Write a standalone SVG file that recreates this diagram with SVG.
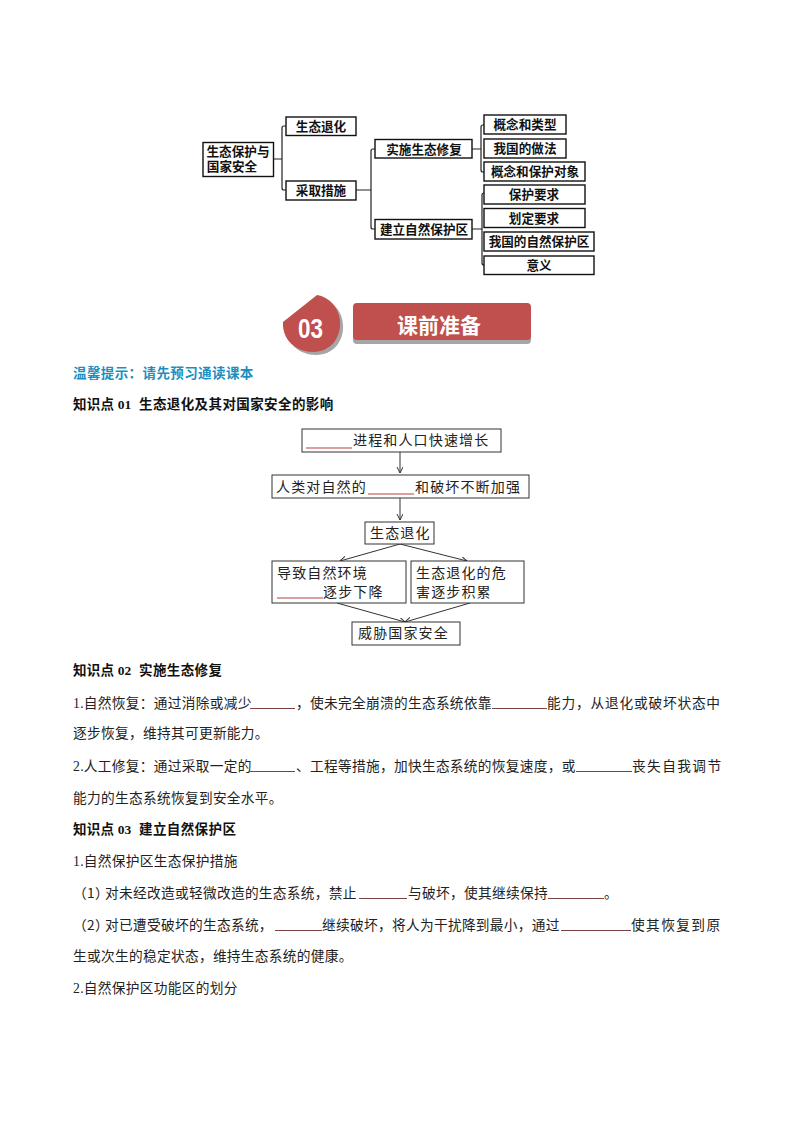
<svg xmlns="http://www.w3.org/2000/svg" width="794" height="1123" viewBox="0 0 794 1123">
<style>
text{font-family:"Liberation Serif","Noto Sans CJK SC",sans-serif;fill:#111}
.tb{fill:#fff;stroke:#111;stroke-width:1.4}
.tt{font-family:"Liberation Sans","Noto Sans CJK SC",sans-serif;font-size:12.6px;font-weight:700;text-anchor:middle}
.tc{fill:none;stroke:#222;stroke-width:1.2}
.fb{fill:#fff;stroke:#333;stroke-width:1}
.ft{font-family:"Liberation Sans","Noto Sans CJK SC",sans-serif;font-size:14px;letter-spacing:1.15px;fill:#222}
.fc{fill:none;stroke:#333;stroke-width:1;marker-end:url(#arr)}
.fu{stroke:#cf7f7c;stroke-width:1.3}
.h{font-size:13.5px;font-weight:700;letter-spacing:.4px}
.p{font-size:13.7px;letter-spacing:.3px;fill:#222}
.w{letter-spacing:.8px}
.x{letter-spacing:1.4px}
.u{stroke:#7b4545;stroke-width:1}
</style>
<defs>
<marker id="arr" markerWidth="8" markerHeight="8" refX="6" refY="3" orient="auto" markerUnits="userSpaceOnUse"><path d="M0,0L6,3L0,6" fill="none" stroke="#333" stroke-width="1"/></marker>
</defs>
<rect width="794" height="1123" fill="#fff"/>

<g id="connectors">
<path class="tc" d="M273,159H282M286,126H284Q282,126 282,128V188Q282,190 284,190H286"/>
<path class="tc" d="M356,190H371M375,149H373Q371,149 371,151V227Q371,229 373,229H375"/>
<path class="tc" d="M472,149H481M484,125H483Q481,125 481,127V170Q481,172 483,172H484"/>
<path class="tc" d="M472,229H482M484,193H484Q482,193 482,195V263Q482,265 484,265"/>
<path class="fc" d="M400,452V473"/>
<path class="fc" d="M400,498V520"/>
<path class="fc" d="M400,544L340,561"/>
<path class="fc" d="M400,544L467,561"/>
<path class="fc" d="M337,603L405,622"/>
<path class="fc" d="M470,603L405,622"/>
</g>

<g id="t-root"><rect class="tb" x="203" y="142.500" width="70.500" height="34"/><text class="tt" x="238" y="155.500">生态保护与</text><text class="tt" x="232" y="170.500">国家安全</text></g>
<g id="t-a"><rect class="tb" x="286" y="117" width="70" height="18.500"/><text class="tt" x="321" y="130.500">生态退化</text></g>
<g id="t-b"><rect class="tb" x="286" y="181" width="70" height="19"/><text class="tt" x="321" y="194.500">采取措施</text></g>
<g id="t-c"><rect class="tb" x="375" y="139.500" width="97" height="18.500"/><text class="tt" x="424" y="153.500">实施生态修复</text></g>
<g id="t-d"><rect class="tb" x="375" y="219.500" width="97" height="19.500"/><text class="tt" x="424" y="233.500">建立自然保护区</text></g>
<g id="t-e"><rect class="tb" x="484" y="115" width="82" height="19"/><text class="tt" x="525" y="129">概念和类型</text></g>
<g id="t-f"><rect class="tb" x="484" y="139" width="82" height="19"/><text class="tt" x="525" y="153">我国的做法</text></g>
<g id="t-g"><rect class="tb" x="484" y="162" width="101" height="19"/><text class="tt" x="535" y="176">概念和保护对象</text></g>
<g id="t-h"><rect class="tb" x="484" y="185" width="101" height="19"/><text class="tt" x="534" y="199">保护要求</text></g>
<g id="t-i"><rect class="tb" x="484" y="208.500" width="101" height="19"/><text class="tt" x="534" y="222.500">划定要求</text></g>
<g id="t-j"><rect class="tb" x="484" y="232" width="110" height="19"/><text class="tt" x="539" y="246">我国的自然保护区</text></g>
<g id="t-k"><rect class="tb" x="484" y="256" width="110" height="18.500"/><text class="tt" x="539" y="270">意义</text></g>

<g id="badge">
<path d="M319,298L286,324C285,343 299,355 316,355C334,355 344,340 343,325C342,310 332,300 319,298Z" fill="#a6a6a6"/>
<path d="M317,295L283,322C282,340 296,352 313,352C331,352 341,337 340,322C339,307 329,297 317,295Z" fill="#c0504d"/>
<text x="298" y="337.500" font-size="28" font-weight="700" textLength="25" lengthAdjust="spacingAndGlyphs" style="font-family:'Liberation Sans',sans-serif;fill:#fff">03</text>
</g>
<g id="banner">
<rect x="353" y="307" width="178" height="37" rx="4" fill="#a6a6a6"/>
<rect x="353" y="303" width="178" height="37" rx="4" fill="#c0504d"/>
<text x="397" y="333" font-size="21" font-weight="700" style="font-family:'Noto Sans CJK SC',sans-serif;fill:#fff">课前准备</text>
</g>

<text class="h" x="73" y="378" style="fill:#1a8fc0">温馨提示：请先预习通读课本</text>
<text class="h" x="73" y="409" style="letter-spacing:.2px">知识点 01</text><text class="h" x="139" y="409">生态退化及其对国家安全的影响</text>

<g id="f1"><rect class="fb" x="302" y="429" width="199" height="23"/><line class="fu" x1="306" y1="448" x2="352" y2="448"/><text class="ft" x="353" y="445">进程和人口快速增长</text></g>
<g id="f2"><rect class="fb" x="272" y="475" width="257" height="23"/><line class="fu" x1="368" y1="494" x2="414" y2="494"/><text class="ft" x="276" y="492">人类对自然的</text><text class="ft" x="415" y="492">和破坏不断加强</text></g>
<g id="f3"><rect class="fb" x="365" y="522" width="69" height="22"/><text class="ft" x="370" y="538">生态退化</text></g>
<g id="f4"><rect class="fb" x="272" y="561" width="134" height="42"/><line class="fu" x1="277" y1="598" x2="323" y2="598"/><text class="ft" x="277" y="578">导致自然环境</text><text class="ft" x="323" y="597">逐步下降</text></g>
<g id="f5"><rect class="fb" x="411" y="561" width="113" height="42"/><text class="ft" x="416" y="578">生态退化的危</text><text class="ft" x="416" y="597">害逐步积累</text></g>
<g id="f6"><rect class="fb" x="352" y="622" width="108" height="23"/><text class="ft" x="358" y="638">威胁国家安全</text></g>

<text class="h" x="73" y="675" style="letter-spacing:.2px">知识点 02</text><text class="h" x="139" y="675">实施生态修复</text>
<text class="p" x="73" y="708">1.自然恢复：通过消除或减少</text><line class="u" x1="250" y1="708.500" x2="295" y2="708.500"/>
<text class="p" x="296" y="708">，使未完全崩溃的生态系统依靠</text><line class="u" x1="492" y1="708.500" x2="547" y2="708.500"/>
<text class="p w" x="547" y="708">能力，从退化或破坏状态中</text>
<text class="p" x="73" y="738">逐步恢复，维持其可更新能力。</text>
<text class="p" x="73" y="771">2.人工修复：通过采取一定的</text><line class="u" x1="250" y1="771.500" x2="295" y2="771.500"/>
<text class="p" x="296" y="771">、工程等措施，加快生态系统的恢复速度，或</text><line class="u" x1="576" y1="771.500" x2="632" y2="771.500"/>
<text class="p x" x="632" y="771">丧失自我调节</text>
<text class="p" x="73" y="803">能力的生态系统恢复到安全水平。</text>

<text class="h" x="73" y="834" style="letter-spacing:.2px">知识点 03</text><text class="h" x="139" y="834">建立自然保护区</text>
<text class="p" x="73" y="866">1.自然保护区生态保护措施</text>
<text class="p" x="73" y="898" style="font-family:'Noto Sans CJK SC',sans-serif">（1）</text><text class="p" x="105" y="898">对未经改造或轻微改造的生态系统，禁止</text><line class="u" x1="359" y1="898.500" x2="407" y2="898.500"/>
<text class="p" x="408" y="898">与破坏，使其继续保持</text><line class="u" x1="548" y1="898.500" x2="604" y2="898.500"/>
<text class="p" x="604" y="898">。</text>
<text class="p" x="73" y="930" style="font-family:'Noto Sans CJK SC',sans-serif">（2）</text><text class="p" x="105" y="930">对已遭受破坏的生态系统，</text><line class="u" x1="275" y1="930.500" x2="322" y2="930.500"/>
<text class="p" x="322" y="930">继续破坏，将人为干扰降到最小，通过</text><line class="u" x1="561" y1="930.500" x2="631" y2="930.500"/>
<text class="p x" x="631" y="930">使其恢复到原</text>
<text class="p" x="73" y="961">生或次生的稳定状态，维持生态系统的健康。</text>
<text class="p" x="73" y="993">2.自然保护区功能区的划分</text>
</svg>
